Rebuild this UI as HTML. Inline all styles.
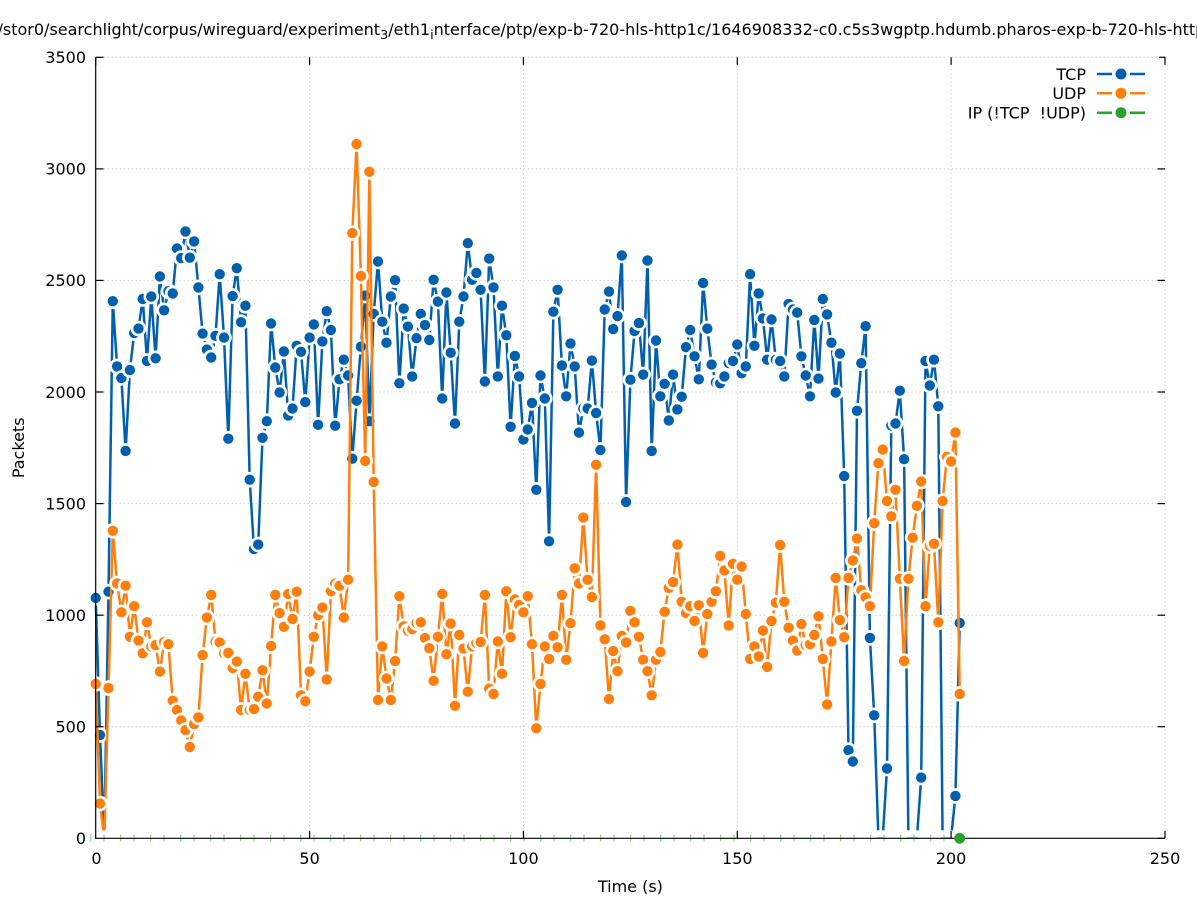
<!DOCTYPE html>
<html>
<head>
<meta charset="utf-8">
<style>
  html,body{margin:0;padding:0;background:#fff;}
  body{width:1197px;height:900px;overflow:hidden;}
  svg{display:block;font-family:"DejaVu Sans","Liberation Sans",sans-serif;}
  text{fill:#000;}
</style>
</head>
<body>
<svg id="chart" width="1197" height="900" viewBox="0 0 1197 900">
  <defs>
    <clipPath id="pc"><rect x="0" y="0" width="1197" height="838.3"/></clipPath>
    <clipPath id="pc2"><rect x="0" y="0" width="1197" height="837.4"/></clipPath>
  </defs>
  <rect x="0" y="0" width="1197" height="900" fill="#fff"/>

  <!-- Title -->
  <text x="-2.5" y="35" font-size="16" xml:space="preserve">/stor0/searchlight/corpus/wireguard/experiment<tspan font-size="12.8" dy="4">3</tspan><tspan dy="-4">/eth1</tspan><tspan font-size="12.8" dy="4">i</tspan><tspan dy="-4">nterface/ptp/exp-b-720-hls-http1c/1646908332-c0.c5s3wgptp.hdumb.pharos-exp-b-720-hls-http1c</tspan></text>

  <!-- grid -->
  <g stroke="#bdbdbd" stroke-width="1" stroke-dasharray="1 3" fill="none">
    <line x1="95.7" y1="726.7" x2="1165" y2="726.7"/>
    <line x1="95.7" y1="615.2" x2="1165" y2="615.2"/>
    <line x1="95.7" y1="503.6" x2="1165" y2="503.6"/>
    <line x1="95.7" y1="392.0" x2="1165" y2="392.0"/>
    <line x1="95.7" y1="280.4" x2="1165" y2="280.4"/>
    <line x1="95.7" y1="168.9" x2="1165" y2="168.9"/>
    <line x1="95.7" y1="57.3" x2="1165" y2="57.3"/>
    <line x1="309.6" y1="57.3" x2="309.6" y2="838.3"/>
    <line x1="523.4" y1="57.3" x2="523.4" y2="838.3"/>
    <line x1="737.3" y1="57.3" x2="737.3" y2="838.3"/>
    <line x1="951.1" y1="57.3" x2="951.1" y2="838.3"/>
    <line x1="1165" y1="57.3" x2="1165" y2="838.3"/>
  </g>

  <!-- data -->
  <g id="data"></g>

  <!-- axes + ticks -->
  <g stroke="#000" stroke-width="1.2" fill="none">
    <line x1="95.7" y1="57.3" x2="95.7" y2="838.3"/>
    <line x1="95.1" y1="838.3" x2="1165" y2="838.3"/>
    <!-- left ticks -->
    <line x1="95.7" y1="726.7" x2="103.5" y2="726.7"/>
    <line x1="95.7" y1="615.2" x2="103.5" y2="615.2"/>
    <line x1="95.7" y1="503.6" x2="103.5" y2="503.6"/>
    <line x1="95.7" y1="392.0" x2="103.5" y2="392.0"/>
    <line x1="95.7" y1="280.4" x2="103.5" y2="280.4"/>
    <line x1="95.7" y1="168.9" x2="103.5" y2="168.9"/>
    <line x1="95.7" y1="57.3" x2="103.5" y2="57.3"/>
    <!-- right mirror ticks -->
    <line x1="1165" y1="838.3" x2="1157.5" y2="838.3"/>
    <line x1="1165" y1="726.7" x2="1157.5" y2="726.7"/>
    <line x1="1165" y1="615.2" x2="1157.5" y2="615.2"/>
    <line x1="1165" y1="503.6" x2="1157.5" y2="503.6"/>
    <line x1="1165" y1="392.0" x2="1157.5" y2="392.0"/>
    <line x1="1165" y1="280.4" x2="1157.5" y2="280.4"/>
    <line x1="1165" y1="168.9" x2="1157.5" y2="168.9"/>
    <line x1="1159" y1="57.3" x2="1165" y2="57.3"/>
    <!-- bottom ticks -->
    <line x1="309.6" y1="838.3" x2="309.6" y2="830.8"/>
    <line x1="523.4" y1="838.3" x2="523.4" y2="830.8"/>
    <line x1="737.3" y1="838.3" x2="737.3" y2="830.8"/>
    <line x1="951.1" y1="838.3" x2="951.1" y2="830.8"/>
    <line x1="1165" y1="838.3" x2="1165" y2="830.8"/>
    <!-- top mirror ticks -->
    <line x1="95.7" y1="57.3" x2="95.7" y2="64.8"/>
    <line x1="309.6" y1="57.3" x2="309.6" y2="64.8"/>
    <line x1="523.4" y1="57.3" x2="523.4" y2="64.8"/>
    <line x1="737.3" y1="57.3" x2="737.3" y2="64.8"/>
    <line x1="951.1" y1="57.3" x2="951.1" y2="64.8"/>
    <line x1="1165" y1="56.7" x2="1165" y2="64.8"/>
  </g>

  <!-- green marker on top -->
  <g id="green"></g>

  <!-- y tick labels -->
  <g font-size="16" text-anchor="end">
    <text x="86" y="844">0</text>
    <text x="86" y="732.5">500</text>
    <text x="86" y="621">1000</text>
    <text x="86" y="509.4">1500</text>
    <text x="86" y="397.8">2000</text>
    <text x="86" y="286.2">2500</text>
    <text x="86" y="174.7">3000</text>
    <text x="86" y="63.1">3500</text>
  </g>
  <!-- x tick labels -->
  <g font-size="16" text-anchor="middle">
    <text x="96.5" y="864">0</text>
    <text x="309.6" y="864">50</text>
    <text x="523.4" y="864">100</text>
    <text x="737.3" y="864">150</text>
    <text x="951.1" y="864">200</text>
    <text x="1165" y="864">250</text>
  </g>

  <!-- axis labels -->
  <text x="630.4" y="892" font-size="16" text-anchor="middle">Time (s)</text>
  <text transform="translate(24,447.8) rotate(-90)" font-size="16" text-anchor="middle">Packets</text>

  <!-- legend -->
  <g font-size="16" text-anchor="end">
    <text x="1086" y="79.8">TCP</text>
    <text x="1086" y="99.1">UDP</text>
    <text x="1086" y="118.5" xml:space="preserve">IP (!TCP&#160;&#160;!UDP)</text>
  </g>
  <g stroke-width="2.5">
    <line x1="1097" y1="74" x2="1145" y2="74" stroke="#0060ad"/>
    <line x1="1097" y1="93.3" x2="1145" y2="93.3" stroke="#ff7f0e"/>
    <line x1="1097" y1="112.7" x2="1145" y2="112.7" stroke="#2ca02c"/>
  </g>
  <g>
    <circle cx="1121" cy="74" r="9" fill="#fff"/>
    <circle cx="1121" cy="74" r="5.5" fill="#0060ad"/>
    <circle cx="1121" cy="93.3" r="9" fill="#fff"/>
    <circle cx="1121" cy="93.3" r="5.5" fill="#ff7f0e"/>
    <circle cx="1121" cy="112.7" r="9" fill="#fff"/>
    <circle cx="1121" cy="112.7" r="5.5" fill="#2ca02c"/>
  </g>
</svg>

<script>
(function(){
  var tcp=[1077,463,0,1105,2407,2115,2063,1736,2098,2264,
  2284,2417,2139,2428,2151,2518,2366,2452,2442,2643,
  2600,2720,2602,2675,2469,2262,2190,2155,2252,2528,
  2244,1791,2430,2555,2313,2387,1607,1296,1316,1795,
  1869,2307,2110,1998,2182,1895,1926,2207,2180,1955,
  2244,2303,1853,2227,2362,2278,1849,2057,2145,2074,
  1701,1961,2203,2432,1869,2350,2585,2315,2221,2428,
  2501,2039,2374,2293,2070,2241,2350,2300,2233,2503,
  2405,1971,2446,2176,1859,2315,2428,2667,2503,2534,
  2458,2047,2598,2469,2070,2387,2254,1844,2162,2070,
  1787,1832,1951,1562,2074,1971,1331,2360,2458,2119,
  1981,2217,2115,1818,1926,1926,2141,1906,1740,2370,
  2450,2282,2340,2612,1507,2055,2274,2309,2078,2590,
  1736,2231,1981,2037,1873,2078,1922,1979,2201,2278,
  2160,2057,2489,2284,2123,2043,2039,2070,2130,2139,
  2213,2084,2115,2528,2207,2442,2330,2145,2325,2145,
  2139,2070,2395,2370,2356,2160,2074,1981,2323,2060,
  2417,2348,2221,1998,2172,1623,395,344,1916,2129,
  2295,898,551,0,0,313,1850,1859,2006,1699,
  0,0,0,272,2139,2029,2145,1936,0,0,
  0,190,965];
  var udp=[692,156,0,673,1378,1142,1013,1132,903,1040,
  886,829,968,860,866,747,880,870,616,575,
  528,485,409,512,542,821,989,1091,882,878,
  829,831,763,792,575,737,575,579,634,753,
  604,862,1091,1009,948,1095,983,1105,641,614,
  747,903,1000,1034,712,1107,1142,1132,989,1159,
  2712,3111,2520,1691,2987,1597,620,860,716,620,
  794,1085,950,930,938,965,968,897,852,706,
  903,1095,825,962,594,911,850,657,860,875,
  880,1091,671,647,882,737,1107,901,1070,1046,
  1013,1085,870,493,692,860,804,907,856,1091,
  800,964,1210,1142,1437,1159,1081,1674,954,892,
  624,839,749,907,878,1019,968,903,800,749,
  641,800,835,1015,1122,1148,1316,1060,1009,1040,
  974,1044,831,1005,1060,1107,1265,1200,954,1230,
  1159,1218,1005,804,860,815,931,768,974,1056,
  1314,1060,944,886,841,960,866,870,911,995,
  804,600,882,1167,978,901,1167,1245,1343,1112,
  1080,1040,1412,1681,1742,1511,1443,1562,1163,794,
  1163,1347,1490,1599,1040,1310,1320,968,1511,1709,
  1689,1818,647];

  function X(t){return 95.7+4.2772*t;}
  function Y(v){return 838.3-v*0.223143;}

  function series(d,col){
    var pts=[];
    for(var i=0;i<d.length;i++){pts.push(X(i).toFixed(1)+','+Y(d[i]).toFixed(1));}
    var s='<polyline points="'+pts.join(' ')+'" fill="none" stroke="'+col+'" stroke-width="2.5" stroke-linejoin="round" stroke-linecap="round" clip-path="url(#pc)"/>';
    for(var j=0;j<d.length;j++){
      var x=X(j).toFixed(1), y=Y(d[j]).toFixed(1);
      if(d[j]===0){
        s+='<circle cx="'+x+'" cy="'+y+'" r="8" fill="#fff" clip-path="url(#pc2)"/>';
      } else {
        s+='<circle cx="'+x+'" cy="'+y+'" r="7.8" fill="#fff"/>';
        s+='<circle cx="'+x+'" cy="'+y+'" r="5.2" fill="'+col+'"/>';
      }
    }
    return s;
  }

  var html='';
  html+=series(tcp,'#0060ad');
  html+=series(udp,'#ff7f0e');
  // faint green tick marks along the zero line
  var g='';
  for(var k=0;k<30;k++){
    var a=90.7+30*k, b=104+30*k;
    if(a<958) g+='<rect x="'+(a-0.6).toFixed(1)+'" y="834.5" width="1.2" height="7" fill="#8fd08f"/>';
    if(b<958) g+='<rect x="'+(b-0.6).toFixed(1)+'" y="834.5" width="1.2" height="7" fill="#8fd08f"/>';
  }
  html+=g;
  document.getElementById('data').innerHTML=html;

  var gx=X(202).toFixed(1), gy=Y(0).toFixed(1);
  document.getElementById('green').innerHTML=
    '<circle cx="'+gx+'" cy="'+gy+'" r="5.4" fill="#2ca02c"/>';
})();
</script>
</body>
</html>
